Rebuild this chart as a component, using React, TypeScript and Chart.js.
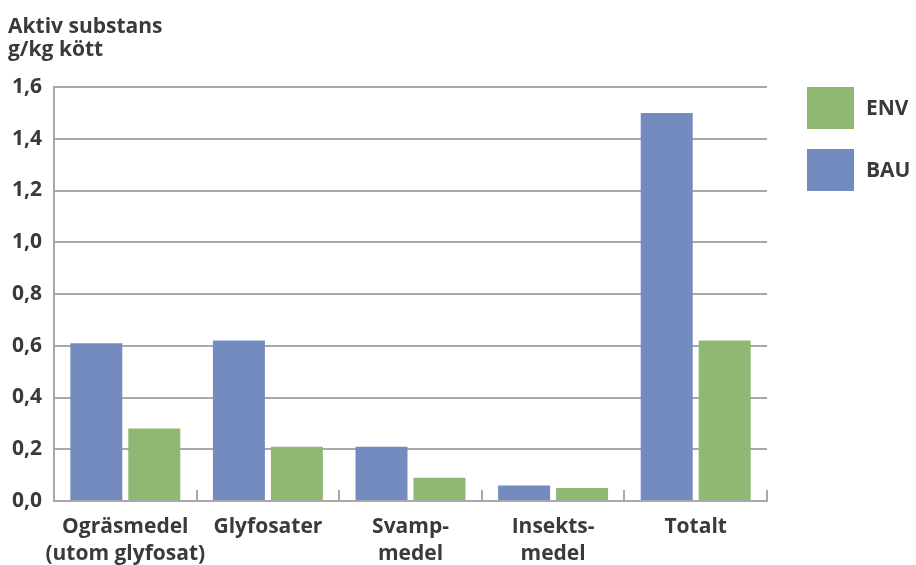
import React, { useEffect, useRef } from "react";
import { Chart, registerables } from "chart.js";

Chart.register(...registerables);

const categories: (string | string[])[] = [
  ["Ogräsmedel", "(utom glyfosat)"],
  "Glyfosater",
  ["Svamp-", "medel"],
  ["Insekts-", "medel"],
  "Totalt",
];
const bauValues = [0.61, 0.62, 0.21, 0.06, 1.5];
const envValues = [0.28, 0.21, 0.09, 0.05, 0.62];
const yTitleLines = ["Aktiv substans", "g/kg kött"];
const legendItems = [
  { label: "ENV", color: "#8fb973" },
  { label: "BAU", color: "#748bc0" },
];

const FONT = "'Open Sans', 'Noto Sans', sans-serif";
const FONT_SIZE = 21;
const TEXT = "#3a3a3c";
const GRID = "#a9a9ad";

const decorations = {
  id: "decorations",
  afterDraw(chart: any) {
    const { ctx, chartArea } = chart;
    const x = chart.scales.x;
    ctx.save();
    // short category separators rising from the baseline
    ctx.strokeStyle = GRID;
    ctx.lineWidth = 2;
    const n = categories.length;
    const step = (chartArea.right - chartArea.left) / n;
    for (let i = 1; i <= n; i++) {
      const px = Math.round(x.left + i * step);
      ctx.beginPath();
      ctx.moveTo(px, chartArea.bottom);
      ctx.lineTo(px, chartArea.bottom - 11);
      ctx.stroke();
    }
    // axis title
    ctx.fillStyle = TEXT;
    ctx.font = `bold ${FONT_SIZE}px ${FONT}`;
    ctx.textBaseline = "alphabetic";
    ctx.textAlign = "left";
    ctx.fillText(yTitleLines[0], 8, 33);
    ctx.fillText(yTitleLines[1], 8, 56);
    // legend
    legendItems.forEach((item, i) => {
      const top = 87 + i * 62;
      ctx.fillStyle = item.color;
      ctx.fillRect(807, top, 47, 42);
      ctx.fillStyle = TEXT;
      ctx.textBaseline = "middle";
      ctx.fillText(item.label, 866, top + 22);
    });
    ctx.restore();
  },
};

export default function App() {
  const canvasRef = useRef<HTMLCanvasElement | null>(null);

  useEffect(() => {
    document.body.style.margin = "0";
    const canvas = canvasRef.current;
    if (!canvas) return;
    const chart = new Chart(canvas, {
      type: "bar",
      data: {
        labels: categories,
        datasets: [
          {
            label: "BAU",
            data: bauValues,
            backgroundColor: "#748bc0",
            categoryPercentage: 0.813,
            barPercentage: 0.897,
          },
          {
            label: "ENV",
            data: envValues,
            backgroundColor: "#8fb973",
            categoryPercentage: 0.813,
            barPercentage: 0.897,
          },
        ],
      },
      options: {
        animation: false,
        responsive: false,
        layout: { padding: { top: 87, right: 149, bottom: 0, left: 0 } },
        plugins: {
          legend: { display: false },
          tooltip: { enabled: false },
        },
        scales: {
          x: {
            grid: { display: false },
            border: { display: true, color: GRID, width: 2 },
            ticks: {
              color: TEXT,
              padding: 5,
              maxRotation: 0,
              autoSkip: false,
              font: { family: FONT, size: FONT_SIZE, weight: "bold", lineHeight: 1.28 },
            },
            afterFit(scale: any) {
              scale.height = 64;
            },
          },
          y: {
            min: 0,
            max: 1.6,
            grid: { color: GRID, lineWidth: 2, drawTicks: false },
            border: { display: true, color: GRID, width: 2 },
            ticks: {
              stepSize: 0.2,
              color: TEXT,
              padding: 12,
              font: { family: FONT, size: FONT_SIZE, weight: "bold" },
              callback: (v: any) => Number(v).toFixed(1).replace(".", ","),
            },
            afterFit(scale: any) {
              scale.width = 54;
            },
          },
        },
      },
      plugins: [decorations],
    });
    return () => chart.destroy();
  }, []);

  return (
    <div style={{ width: 916, height: 565, background: "#fff" }}>
      <canvas ref={canvasRef} width={916} height={565} />
    </div>
  );
}
